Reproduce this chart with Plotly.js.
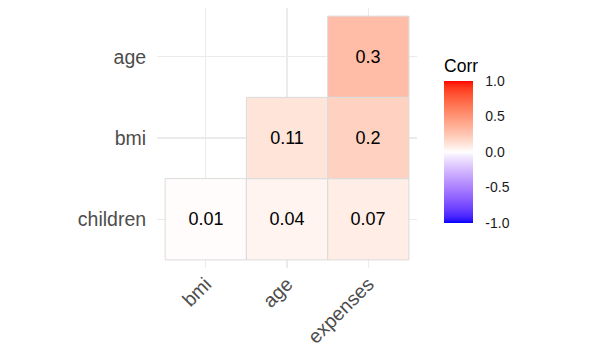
<!DOCTYPE html>
<html>
<head>
<meta charset="utf-8">
<script src="https://cdn.plot.ly/plotly-3.0.1.min.js"></script>
<style>html,body{margin:0;padding:0;background:#fff;}#chart{width:600px;height:360px;}</style>
</head>
<body>
<div id="chart"></div>
<script>
// ---- data ----
const xLabels = ['bmi', 'age', 'expenses'];
const yLabels = ['children', 'bmi', 'age'];
const rowChildren = [0.01, 0.04, 0.07];
const rowBmi = [null, 0.11, 0.2];
const rowAge = [null, null, 0.3];
const colorbarTicks = [-1, -0.5, 0, 0.5, 1];
const colorbarTickText = ['-1.0', '-0.5', '0.0', '0.5', '1.0'];

const zRows = [rowChildren, rowBmi, rowAge];
const textRows = zRows.map(r => r.map(v => v === null ? '' : String(v)));

// ---- Lab-interpolated blue-white-red colorscale (like ggplot2 gradient2) ----
function labToRgb(L, a, b) {
  const fy = (L + 16) / 116, fx = fy + a / 500, fz = fy - b / 200;
  const e = 216 / 24389, k = 24389 / 27;
  const f = t => (t * t * t > e ? t * t * t : (116 * t - 16) / k);
  const X = 0.95047 * f(fx), Y = (L > k * e ? fy * fy * fy : L / k), Z = 1.08883 * f(fz);
  let r = 3.2404542 * X - 1.5371385 * Y - 0.4985314 * Z;
  let g = -0.9692660 * X + 1.8760108 * Y + 0.0415560 * Z;
  let bl = 0.0556434 * X - 0.2040259 * Y + 1.0572252 * Z;
  const gam = c => { c = Math.max(0, Math.min(1, c)); return c <= 0.0031308 ? 12.92 * c : 1.055 * Math.pow(c, 1 / 2.4) - 0.055; };
  return 'rgb(' + [r, g, bl].map(c => Math.round(gam(c) * 255)).join(',') + ')';
}
const labBlue = [32.30, 79.19, -107.86], labWhite = [100, 0, 0], labRed = [53.24, 80.09, 67.20];
const colorscale = [];
const N = 40;
for (let i = 0; i <= N; i++) {
  const s = i / N; // 0..1
  let a, b, t;
  if (s <= 0.5) { a = labBlue; b = labWhite; t = 1 - Math.pow(1 - s / 0.5, 0.88); }
  else { a = labWhite; b = labRed; t = Math.pow((s - 0.5) / 0.5, 0.88); }
  const L = a[0] + (b[0] - a[0]) * t, A = a[1] + (b[1] - a[1]) * t, B = a[2] + (b[2] - a[2]) * t;
  colorscale.push([s, labToRgb(L, A, B)]);
}

const font = 'Liberation Sans, Arial, Helvetica, sans-serif';

const trace = {
  type: 'heatmap',
  x: xLabels,
  y: yLabels,
  z: zRows,
  text: textRows,
  texttemplate: '%{text}',
  textfont: {family: font, size: 18, color: '#000000'},
  colorscale: colorscale,
  zmin: -1, zmax: 1,
  hoverongaps: false,
  colorbar: {
    title: {text: 'Corr', side: 'top', font: {family: font, size: 17.5, color: '#000000'}},
    thickness: 29,
    thicknessmode: 'pixels',
    len: 167,
    lenmode: 'pixels',
    x: 1.104, xanchor: 'left',
    y: 0.173, yanchor: 'bottom',
    xpad: 0, ypad: 0,
    outlinewidth: 0,
    tickvals: colorbarTicks,
    ticktext: colorbarTickText,
    ticks: 'outside',
    ticklen: 10,
    tickcolor: 'rgba(255,255,255,0)',
    tickfont: {family: font, size: 14, color: '#1a1a1a'}
  }
};

const shapes = [];
zRows.forEach((row, j) => row.forEach((v, i) => {
  if (v === null) return;
  shapes.push({type: 'rect', xref: 'x', yref: 'y', x0: i - 0.5, x1: i + 0.5, y0: j - 0.5, y1: j + 0.5,
    line: {color: '#dcdcdc', width: 1}, fillcolor: 'rgba(0,0,0,0)', layer: 'above'});
}));

const layout = {
  width: 600, height: 360,
  margin: {l: 157, r: 183, t: 8, b: 92},
  paper_bgcolor: '#ffffff', plot_bgcolor: '#ffffff',
  font: {family: font},
  xaxis: {
    type: 'category', categoryorder: 'array', categoryarray: xLabels,
    range: [-0.6, 2.6], showgrid: true, gridcolor: '#ebebeb', gridwidth: 1.1,
    zeroline: false, showline: false, tickangle: -45,
    ticks: '',
    tickfont: {family: font, size: 19.5, color: '#4d4d4d'}
  },
  yaxis: {
    type: 'category', categoryorder: 'array', categoryarray: yLabels,
    range: [-0.6, 2.6], showgrid: true, gridcolor: '#ebebeb', gridwidth: 1.1,
    zeroline: false, showline: false,
    ticks: 'outside', ticklen: 6, tickcolor: 'rgba(0,0,0,0)',
    tickfont: {family: font, size: 19.5, color: '#4d4d4d'}
  },
  shapes: shapes,
  showlegend: false
};

Plotly.newPlot('chart', [trace], layout, {staticPlot: true, displayModeBar: false});
</script>
</body>
</html>
